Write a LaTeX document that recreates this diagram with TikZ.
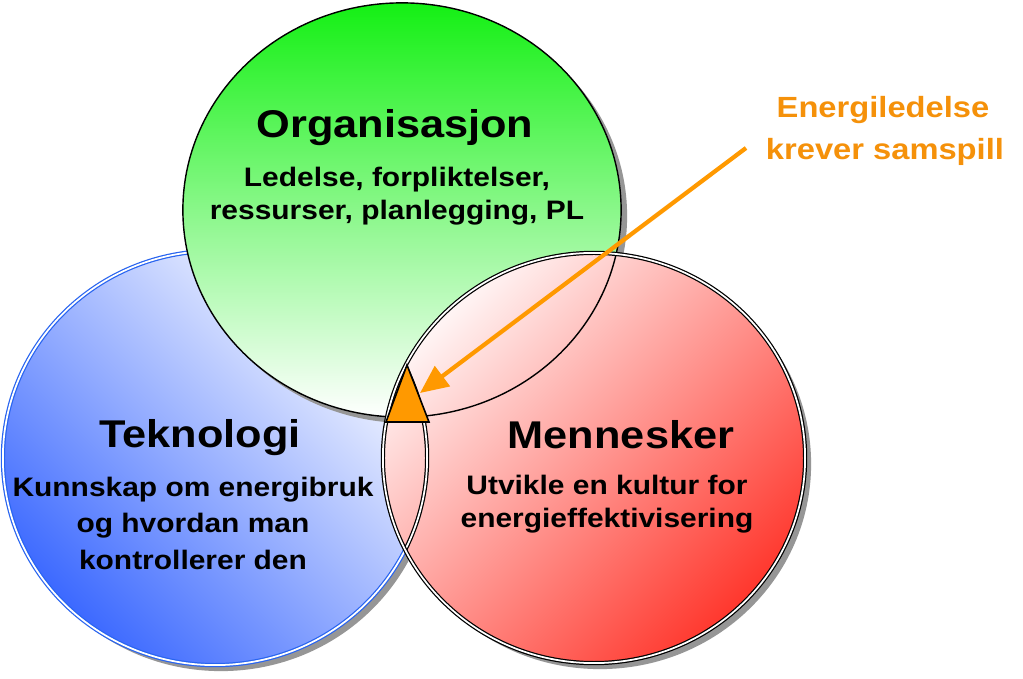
\documentclass[tikz,border=0pt]{standalone}
\usepackage{fontspec}
\setmainfont{Liberation Sans}[FakeStretch=1.12]
\usetikzlibrary{arrows.meta}
\definecolor{gtop}{RGB}{20,240,20}
\definecolor{gmid}{RGB}{165,250,165}
\definecolor{bbot}{RGB}{60,105,255}
\definecolor{bmid}{RGB}{185,198,255}
\definecolor{bline}{RGB}{40,100,240}
\definecolor{rbot}{RGB}{255,55,45}
\definecolor{rmid}{RGB}{255,165,160}
\definecolor{rtop}{RGB}{255,245,245}
\definecolor{orng}{RGB}{255,153,0}
\definecolor{otext}{RGB}{245,145,10}
\definecolor{shad}{RGB}{150,150,150}
\tikzset{
  x=0.01cm, y=-0.01cm,
  title/.style={font=\bfseries\fontsize{11}{13}\selectfont, anchor=base, inner sep=0pt},
  sub/.style={font=\bfseries\fontsize{7.6}{9}\selectfont, anchor=base, inner sep=0pt},
  note/.style={font=\bfseries\fontsize{8.3}{10}\selectfont, text=otext, anchor=base, inner sep=0pt},
  shadowfill/.style={fill=shad},
  blueedge/.style={draw=bline, double=white, double distance=0.5pt, line width=0.35pt},
  blackedge/.style={draw=black, line width=0.4pt},
  rededge/.style={draw=black, double=white, double distance=0.5pt, line width=0.35pt},
}
\begin{document}
\begin{tikzpicture}
\useasboundingbox[fill=white] (0,0) rectangle (1023,679);
% blue circle
\fill[shadowfill] (221,464) ellipse [x radius=2.12cm, y radius=2.07cm];
\shade[top color=white, middle color=bmid, bottom color=bbot, shading angle=-45]
  (215,458) ellipse [x radius=2.12cm, y radius=2.07cm];
\draw[blueedge] (215,458) ellipse [x radius=2.12cm, y radius=2.07cm];
% green circle
\fill[shadowfill] (408,216) ellipse [x radius=2.19cm, y radius=2.07cm];
\shade[top color=gtop, middle color=gmid, bottom color=white]
  (402,210) ellipse [x radius=2.19cm, y radius=2.07cm];
\draw[blackedge] (402,210) ellipse [x radius=2.19cm, y radius=2.07cm];
% red circle
\fill[shadowfill] (600,464) ellipse [x radius=2.11cm, y radius=2.05cm];
\shade[top color=rtop, middle color=rmid, bottom color=rbot, shading angle=45]
  (594,458) ellipse [x radius=2.11cm, y radius=2.05cm];
\begin{scope}
  \clip (594,458) ellipse [x radius=2.11cm, y radius=2.05cm];
  \draw[blackedge] (402,210) ellipse [x radius=2.19cm, y radius=2.07cm];
  \draw[rededge] (215,458) ellipse [x radius=2.12cm, y radius=2.07cm];
\end{scope}
\draw[rededge] (594,458) ellipse [x radius=2.11cm, y radius=2.05cm];
% triangle and arrow
\draw[fill=orng, line width=0.45pt, line join=miter] (407,365) -- (429,422) -- (386,422) -- cycle;
\coordinate (tip) at (420,393);
\coordinate (astart) at (746,148);
\draw[orng, line width=1.2pt, -{Triangle[length=8pt,width=7pt]}] (astart) -- (tip);
% texts
\node[title] (org) at (395,138) {Organisasjon};
\node[sub] (org1) at (397,187) {Ledelse, forpliktelser,};
\node[sub] (org2) at (397,220) {ressurser, planlegging, PL};
\node[title] (tek) at (200,448) {Teknologi};
\node[sub] (tek1) at (193,497) {Kunnskap om energibruk};
\node[sub] (tek2) at (193,533) {og hvordan man};
\node[sub] (tek3) at (193,570) {kontrollerer den};
\node[title] (men) at (621,449) {Mennesker};
\node[sub] (men1) at (607,495) {Utvikle en kultur for};
\node[sub] (men2) at (607,528) {energieffektivisering};
\node[note] (n1) at (883,118) {Energiledelse};
\node[note] (n2) at (885,160) {krever samspill};
\end{tikzpicture}
\end{document}
